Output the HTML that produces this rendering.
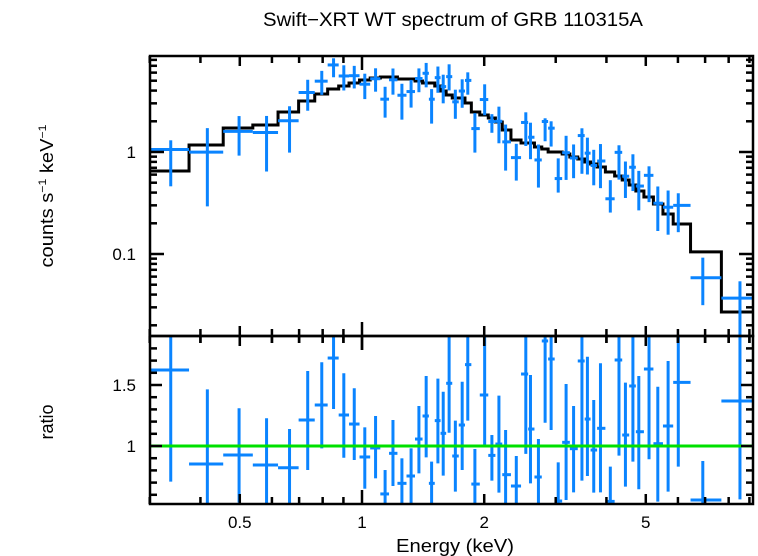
<!DOCTYPE html>
<html><head><meta charset="utf-8"><style>
body{margin:0;background:#fff;}
svg{display:block;font-family:"Liberation Sans",sans-serif;}
</style></head><body>
<svg id="chart" width="758" height="556" viewBox="0 0 758 556">
<defs>
<clipPath id="clipTop"><rect x="150" y="56" width="603" height="280"/></clipPath>
<clipPath id="clipBot"><rect x="150" y="336" width="603" height="168"/></clipPath>
</defs>
<rect width="758" height="556" fill="#fff"/>
<text x="453" y="26" text-anchor="middle" font-size="19" textLength="380" lengthAdjust="spacingAndGlyphs">Swift−XRT WT spectrum of GRB 110315A</text>
<text transform="translate(53,196) rotate(-90)" text-anchor="middle" font-size="18" textLength="143" lengthAdjust="spacingAndGlyphs">counts s<tspan font-size="11" dy="-7">−1</tspan><tspan dy="7"> keV</tspan><tspan font-size="11" dy="-7">−1</tspan></text>
<text transform="translate(53,422) rotate(-90)" text-anchor="middle" font-size="18">ratio</text>
<text x="455" y="552" text-anchor="middle" font-size="18" textLength="118" lengthAdjust="spacingAndGlyphs">Energy (keV)</text>
<g id="gTop" clip-path="url(#clipTop)"></g>
<g id="gBot" clip-path="url(#clipBot)"></g>
<g id="gAxes"></g>
</svg>
<script>
const energies=[0.338,0.416,0.498,0.582,0.663,0.735,0.796,0.851,0.902,0.957,1.016,1.080,1.140,1.192,1.254,1.321,1.381,1.439,1.484,1.538,1.585,1.639,1.698,1.765,1.822,1.897,2.005,2.089,2.174,2.258,2.399,2.532,2.600,2.720,2.825,2.923,3.043,3.182,3.320,3.481,3.591,3.722,3.867,4.089,4.295,4.455,4.648,4.806,5.093,5.353,5.675,6.012,6.909,8.53];
const modelCounts=[0.651,1.171,1.719,1.839,2.466,3.162,3.704,4.147,4.436,4.745,5.08,5.31,5.43,5.43,5.19,5.19,4.97,4.745,4.745,4.436,3.963,3.62,3.38,3.38,3.02,2.466,2.305,2.155,1.97,1.643,1.311,1.225,1.225,1.12,1.07,1.0,1.0,0.956,0.893,0.854,0.798,0.763,0.713,0.637,0.582,0.531,0.475,0.415,0.362,0.309,0.247,0.197,0.105,0.027];
const ratio=[1.623,0.852,0.926,0.844,0.822,1.213,1.336,1.721,1.254,1.180,0.910,0.984,0.607,0.940,0.694,0.754,1.057,1.246,0.694,1.208,1.104,1.514,0.918,1.172,1.667,0.688,1.418,0.923,1.016,0.765,0.672,1.590,1.139,0.746,1.861,1.713,0.549,1.030,0.978,1.697,1.221,0.967,1.145,0.546,1.705,1.090,1.492,1.117,1.631,1.019,1.164,1.522,0.557,1.369];
const ratioHi=[2.0,1.464,1.309,1.227,1.139,1.615,1.686,2.0,1.596,1.473,1.153,1.246,0.803,1.213,0.899,0.981,1.328,1.574,0.872,1.552,1.445,2.0,1.208,1.527,2.0,0.975,2.0,1.090,1.413,1.131,0.918,2.0,1.582,1.057,2.0,2.0,0.866,1.508,1.328,2.0,1.732,1.377,1.678,0.831,2.0,1.519,2.0,1.574,2.0,1.486,1.697,2.0,0.877,2.0];
const ratioLo=[0.708,0.25,0.536,0.35,0.40,0.803,0.981,1.303,0.904,0.885,0.650,0.735,0.40,0.672,0.40,0.525,0.776,0.907,0.40,0.858,0.757,1.109,0.626,0.803,1.208,0.40,0.995,0.716,0.618,0.40,0.40,0.935,0.694,0.40,1.191,1.131,0.40,0.557,0.620,0.716,0.754,0.618,0.620,0.40,0.921,0.667,0.872,0.645,0.891,0.544,0.626,0.831,0.30,0.563];
const xTickMajor=[0.5,1,2,5];
const xTickMinor=[0.3,0.4,0.6,0.7,0.8,0.9,3,4,6,7,8,9];
const yTopMajor=[0.1,1];
const yTopMinor=[0.02,0.03,0.04,0.05,0.06,0.07,0.08,0.09,0.2,0.3,0.4,0.5,0.6,0.7,0.8,0.9,2,3,4,5,6,7,8];
const yBotMajor=[1,1.5];
const yBotMinor=[0.6,0.7,0.8,0.9,1.1,1.2,1.3,1.4,1.6,1.7,1.8];

const NS="http://www.w3.org/2000/svg";
const L=150,R=753,T1=56,B1=336,T2=336,B2=504;
const xS=e=>362+406*Math.log10(e);
const yTop=c=>152-102*Math.log10(c);
const yBot=r=>446-122*(r-1);
function mk(tag,attrs,parent){const el=document.createElementNS(NS,tag);for(const k in attrs)el.setAttribute(k,attrs[k]);parent.appendChild(el);return el;}
const gTop=document.getElementById('gTop'),gBot=document.getElementById('gBot'),gAx=document.getElementById('gAxes');
const n=energies.length;
const edges=[0.30];
for(let i=0;i<n-1;i++)edges.push(Math.sqrt(energies[i]*energies[i+1]));
edges.push(9.5);
let d='';
for(let i=0;i<n;i++){const y=yTop(modelCounts[i]);d+=(i===0?'M':'L')+xS(edges[i])+','+y+' L'+xS(edges[i+1])+','+y+' ';}
const mp=mk('path',{d:d,fill:'none',stroke:'#000','stroke-width':3},gTop);


for(let i=0;i<n;i++){
  const x0=xS(edges[i]),x1=xS(edges[i+1]),xc=xS(energies[i]);
  const m=modelCounts[i];
  const g=mk('g',{stroke:'#0a84ff','stroke-width':3,fill:'none'},gTop);
  
  
  const yc=yTop(m*ratio[i]);
  mk('line',{x1:x0,x2:x1,y1:yc,y2:yc},g);
  mk('line',{x1:xc,x2:xc,y1:yTop(m*ratioHi[i]),y2:yTop(m*ratioLo[i])},g);
  const g2=mk('g',{stroke:'#0a84ff','stroke-width':3,fill:'none'},gBot);
  
  
  const yr=yBot(ratio[i]);
  mk('line',{x1:x0,x2:x1,y1:yr,y2:yr},g2);
  mk('line',{x1:xc,x2:xc,y1:yBot(ratioHi[i]),y2:yBot(ratioLo[i])},g2);
}
const gl=mk('line',{x1:L,x2:R,y1:yBot(1),y2:yBot(1),stroke:'#00e000','stroke-width':3},gBot);


const f1=mk('rect',{x:L,y:T1,width:R-L,height:B1-T1,fill:'none',stroke:'#000','stroke-width':2.5},gAx);


const f2=mk('rect',{x:L,y:T2,width:R-L,height:B2-T2,fill:'none',stroke:'#000','stroke-width':2.5},gAx);


function tick(x1,y1,x2,y2){mk('line',{x1:x1,y1:y1,x2:x2,y2:y2,stroke:'#000','stroke-width':2.5},gAx);}
xTickMajor.concat(xTickMinor).forEach(e=>{
  const x=xS(e),len=xTickMajor.includes(e)?(e===1?14:10):7;
  tick(x,T1,x,T1+len);tick(x,B1,x,B1-len);tick(x,B1,x,B1+len);tick(x,T2,x,T2+len);tick(x,B2,x,B2-len);
});
xTickMajor.forEach(e=>{
  const t=mk('text',{x:xS(e),y:528,'text-anchor':'middle','font-size':17},gAx);
  t.textContent=String(e);
  
  
});
yTopMajor.concat(yTopMinor).forEach(c=>{
  const y=yTop(c);if(y<T1||y>B1)return;const len=yTopMajor.includes(c)?14:7;
  tick(L,y,L+len,y);tick(R,y,R-len,y);
});
yTopMajor.forEach(c=>{
  const t=mk('text',{x:136,y:yTop(c)+6,'text-anchor':'end','font-size':17},gAx);
  t.textContent=String(c);
  
  
});
yBotMajor.concat(yBotMinor).forEach(r=>{
  const y=yBot(r);const len=yBotMajor.includes(r)?12:7;
  tick(L,y,L+len,y);tick(R,y,R-len,y);
});
yBotMajor.forEach(r=>{
  const t=mk('text',{x:136,y:yBot(r)+6,'text-anchor':'end','font-size':17},gAx);
  t.textContent=String(r);
  
  
});
</script>
</body></html>
